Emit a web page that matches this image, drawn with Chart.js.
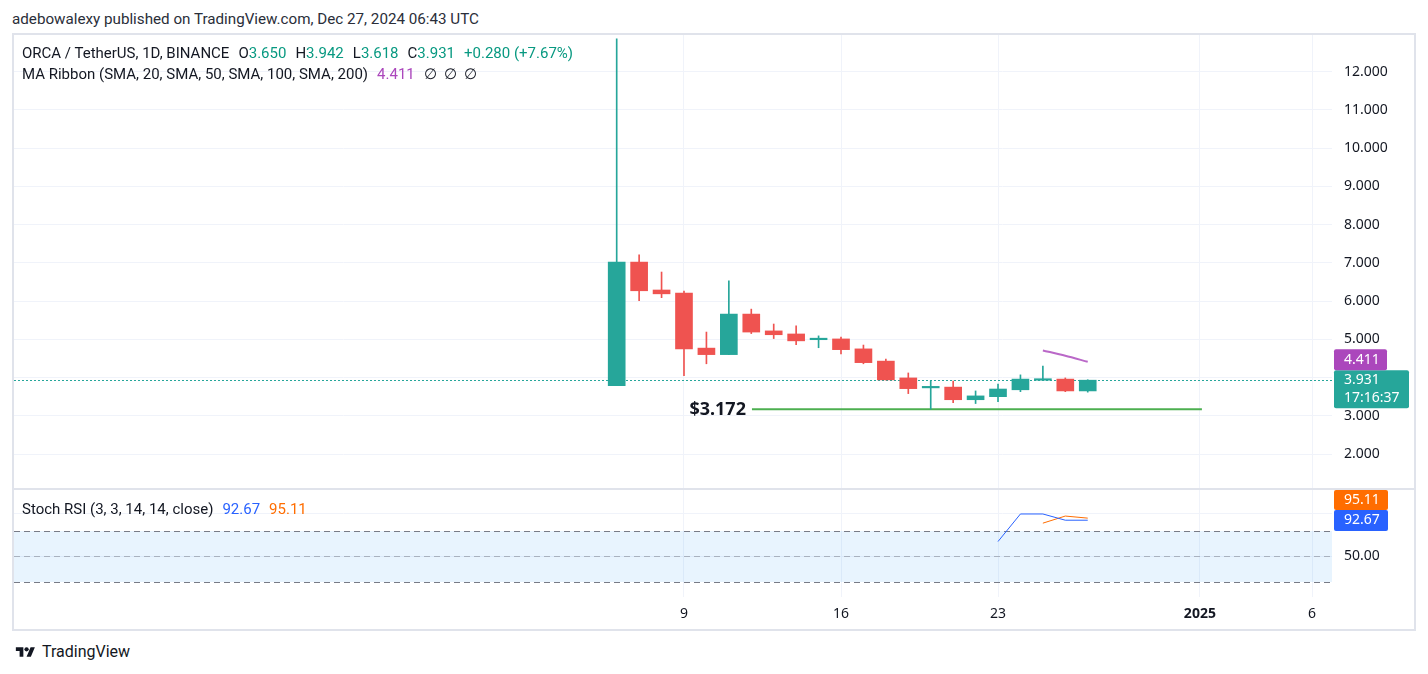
<!DOCTYPE html>
<html><head><meta charset="utf-8">
<script src="https://cdn.jsdelivr.net/npm/chart.js@4.4.1/dist/chart.umd.min.js"></script>
<style>
html,body{margin:0;padding:0;background:#fff;}
body{width:1428px;height:674px;overflow:hidden;position:relative;font-family:Roboto,"Noto Sans",sans-serif;color:#131722;}
.t{position:absolute;white-space:pre;line-height:1;}
#frame{position:absolute;left:12px;top:33px;width:1400px;height:594px;border:2px solid #e0e3eb;}
#sep{position:absolute;left:12px;top:488px;width:1404px;height:2px;background:#e0e3eb;}
canvas{position:absolute;}
.g{margin-left:9px;}
.n{margin-left:7px;}
.up{color:#089981;}
</style></head>
<body>
<div class="t" style="left:12px;top:12px;font-size:15.2px;color:#2a2e39;">adebowalexy published on TradingView.com, Dec 27, 2024 06:43 UTC</div>
<div id="frame"></div>
<div id="sep"></div>
<canvas id="main" width="1400" height="453" style="left:14px;top:35px;"></canvas>
<canvas id="stoch" width="1400" height="139" style="left:14px;top:490px;"></canvas>
<div class="t" style="left:22px;top:46px;font-size:15px;">ORCA / TetherUS, 1D, BINANCE<span class="g">O<span class="up">3.650</span></span><span class="g">H<span class="up">3.942</span></span><span class="g">L<span class="up">3.618</span></span><span class="g">C<span class="up">3.931</span></span><span class="g up">+0.280 (+7.67%)</span></div>
<div class="t" style="left:22px;top:67px;font-size:15px;">MA Ribbon (SMA, 20, SMA, 50, SMA, 100, SMA, 200)<span class="g" style="color:#ab47bc">4.411</span><span class="g">∅</span><span class="n">∅</span><span class="n">∅</span></div>
<div class="t" style="left:22px;top:502px;font-size:15px;">Stoch RSI (3, 3, 14, 14, close)<span class="g" style="color:#2962ff">92.67</span><span class="g" style="color:#ff6d00">95.11</span></div>
<svg style="position:absolute;left:13px;top:645px" width="25" height="15" viewBox="0 0 36 28"><path fill="#131722" d="M14 22H7V11H0V4h14v18zM28 22h-8l7.5-18h8L28 22z"/><circle cx="20" cy="8" r="4" fill="#131722"/></svg>
<div class="t" style="left:42px;top:644px;font-size:16px;">TradingView</div>
<script>
// ---- data ----
const candleDays = [6,7,8,9,10,11,12,13,14,15,16,17,18,19,20,21,22,23,24,25,26,27];
const opens  = [3.787,7.02,6.29,6.21,4.77,4.60,5.66,5.22,5.14,4.99,5.01,4.75,4.43,3.99,3.73,3.75,3.42,3.50,3.68,3.93,3.96,3.650];
const highs  = [12.86,7.21,6.76,6.26,5.19,6.53,5.79,5.40,5.35,5.09,5.06,4.85,4.48,4.12,3.91,3.91,3.65,3.83,4.07,4.30,3.99,3.942];
const lows   = [3.787,6.01,6.09,4.05,4.36,4.60,5.15,5.02,4.86,4.78,4.62,4.36,3.94,3.58,3.172,3.34,3.32,3.37,3.63,3.92,3.63,3.618];
const closes = [7.02,6.27,6.19,4.75,4.60,5.66,5.19,5.12,4.96,5.00,4.73,4.39,3.94,3.71,3.75,3.42,3.52,3.70,3.96,3.96,3.650,3.931];
const maDays = [25,26,27];
const maValues = [4.71,4.57,4.411];
const supportLevel = 3.172;
const supportDays = [12.03,32.09];
const kDays = [23,24,25,26,27];
const kValues = [67.6,100,100,92.66,92.67];
const dDays = [25,26,27];
const dValues = [89.2,97.55,95.11];
const stochBands = [80,50,20];
const priceTicks = [2,3,4,5,6,7,8,9,10,11,12];
const stochTicks = [50,100];
const xTickDays = [9,16,23,32,37];
const xTickLabels = ['9','16','23','2025','6'];
const lastPrice = 3.931;
const countdown = '17:16:37';
const maLast = 4.411;
const kLast = 92.67, dLast = 95.11;

const UP = '#26a69a', DOWN = '#ef5350';
const GRID = '#f0f3fa';
const FONT = '"Noto Sans", sans-serif';
const X_MIN = -20.87, X_MAX = 37.89;

const candleColors = candleDays.map((d,i)=> closes[i] >= opens[i] ? UP : DOWN);

function xScale(showTicks){
  return {
    type:'linear', min:X_MIN, max:X_MAX, offset:false,
    grid:{color:GRID, drawTicks:false, offset:false},
    border:{display:false},
    afterBuildTicks:(s)=>{ s.ticks = xTickDays.map(v=>({value:v})); },
    afterFit:(s)=>{ s.height = showTicks ? 32 : 0; s.paddingLeft = 0; s.paddingRight = 0; },
    ticks:{
      display:showTicks, padding:9, color:'#131722', maxRotation:0, autoSkip:false,
      font:(c)=>({family:FONT, size:14, weight: (c.tick && c.tick.value===32) ? 'bold':'normal'}),
      callback:(v)=> xTickLabels[xTickDays.indexOf(v)]
    }
  };
}

function yFit(s){ s.width = 82; s.paddingTop = 0; s.paddingBottom = 0; }

function box(ctx, x, y, w, h, color){
  ctx.fillStyle = color;
  ctx.beginPath();
  if (ctx.roundRect) ctx.roundRect(x,y,w,h,2); else ctx.rect(x,y,w,h);
  ctx.fill();
}

const mainPlugin = {
  id:'mainOverlay',
  beforeDatasetsDraw(chart){
    const {ctx, chartArea:a, scales:{y}} = chart;
    const py = Math.round(y.getPixelForValue(lastPrice)) + 0.5;
    ctx.save();
    ctx.strokeStyle = UP; ctx.lineWidth = 1; ctx.setLineDash([2,2]);
    ctx.beginPath(); ctx.moveTo(a.left, py); ctx.lineTo(a.right, py); ctx.stroke();
    ctx.restore();
  },
  afterDraw(chart){
    const {ctx, chartArea:a, scales:{x,y}} = chart;
    ctx.save();
    // support label
    const sx = x.getPixelForValue(supportDays[0]);
    const sy = y.getPixelForValue(supportLevel);
    ctx.font = 'bold 18px ' + FONT;
    ctx.fillStyle = '#131722';
    ctx.textAlign = 'right'; ctx.textBaseline = 'middle';
    ctx.fillText('$' + supportLevel.toFixed(3), sx - 6, sy + 1);
    // price labels
    const pLast = y.getPixelForValue(lastPrice);
    const tealTop = pLast - 10;
    box(ctx, a.right + 2, tealTop, 75, 38, UP);
    box(ctx, a.right + 2, tealTop - 21, 53, 21, '#ab47bc');
    ctx.fillStyle = '#fff';
    ctx.textAlign = 'left';
    ctx.font = '14px ' + FONT;
    ctx.fillText(maLast.toFixed(3), a.right + 12, tealTop - 10);
    ctx.fillText(lastPrice.toFixed(3), a.right + 12, tealTop + 10);
    ctx.fillText(countdown, a.right + 12, tealTop + 28);
    ctx.restore();
  }
};

new Chart(document.getElementById('main'), {
  type:'bar',
  data:{
    datasets:[
      { type:'line', label:'support', data: supportDays.map(d=>({x:d, y:supportLevel})),
        borderColor:'#4caf50', borderWidth:2, pointRadius:0, order:3 },
      { label:'wicks', data: candleDays.map((d,i)=>({x:d, y:[lows[i], highs[i]]})),
        backgroundColor:candleColors, barThickness:1, grouped:false, borderWidth:0, order:2 },
      { label:'bodies', data: candleDays.map((d,i)=>({x:d, y:[opens[i], closes[i]]})),
        backgroundColor:candleColors, barThickness:17, grouped:false, borderWidth:0, minBarLength:1.5, order:1 },
      { type:'line', label:'SMA20', data: maDays.map((d,i)=>({x:d, y:maValues[i]})),
        borderColor:'#ba68c8', borderWidth:2, pointRadius:0, tension:0.3, order:0 }
    ]
  },
  options:{
    responsive:false, animation:false, devicePixelRatio:1,
    layout:{padding:0},
    plugins:{legend:{display:false}, tooltip:{enabled:false}},
    scales:{
      x: xScale(false),
      y:{
        type:'linear', position:'right', min:1.111, max:12.96,
        grid:{color:GRID, drawTicks:false}, border:{display:false},
        afterBuildTicks:(s)=>{ s.ticks = priceTicks.map(v=>({value:v})); },
        afterFit:yFit,
        ticks:{padding:12, color:'#131722', font:{family:FONT, size:14}, callback:(v)=>v.toFixed(3)}
      }
    }
  },
  plugins:[mainPlugin]
});

const stochPlugin = {
  id:'stochOverlay',
  beforeDatasetsDraw(chart){
    const {ctx, chartArea:a, scales:{y}} = chart;
    const yTop = y.getPixelForValue(stochBands[0]);
    const yBot = y.getPixelForValue(stochBands[2]);
    ctx.save();
    ctx.fillStyle = 'rgba(33,150,243,0.1)';
    ctx.fillRect(a.left, yTop, a.right - a.left, yBot - yTop);
    ctx.lineWidth = 1; ctx.setLineDash([6,4]);
    stochBands.forEach((b,i)=>{
      const py = Math.round(y.getPixelForValue(b)) + 0.5;
      ctx.strokeStyle = i===1 ? 'rgba(120,123,134,0.5)' : '#787b86';
      ctx.beginPath(); ctx.moveTo(a.left, py); ctx.lineTo(a.right, py); ctx.stroke();
    });
    ctx.restore();
  },
  afterDraw(chart){
    const {ctx, chartArea:a} = chart;
    ctx.save();
    box(ctx, a.right + 2, a.top, 54, 20, '#ff6d00');
    box(ctx, a.right + 2, a.top + 20, 54, 21, '#2962ff');
    ctx.fillStyle = '#fff'; ctx.textAlign='left'; ctx.textBaseline='middle';
    ctx.font = '14px ' + FONT;
    ctx.fillText(dLast.toFixed(2), a.right + 12, a.top + 10);
    ctx.fillText(kLast.toFixed(2), a.right + 12, a.top + 30.5);
    ctx.restore();
  }
};

new Chart(document.getElementById('stoch'), {
  type:'line',
  data:{
    datasets:[
      { label:'K', data: kDays.map((d,i)=>({x:d, y:kValues[i]})), borderColor:'#2962ff', borderWidth:1, pointRadius:0 },
      { label:'D', data: dDays.map((d,i)=>({x:d, y:dValues[i]})), borderColor:'#ff6d00', borderWidth:1, pointRadius:0 }
    ]
  },
  options:{
    responsive:false, animation:false, devicePixelRatio:1,
    layout:{padding:0},
    plugins:{legend:{display:false}, tooltip:{enabled:false}},
    scales:{
      x: xScale(true),
      y:{
        type:'linear', position:'right', min:2.35, max:128.2,
        grid:{color:GRID, drawTicks:false}, border:{display:false},
        afterBuildTicks:(s)=>{ s.ticks = stochTicks.map(v=>({value:v})); },
        afterFit:yFit,
        ticks:{padding:12, color:'#131722', font:{family:FONT, size:14}, callback:(v)=> v===50 ? '50.00' : ''}
      }
    }
  },
  plugins:[stochPlugin]
});
</script>
</body></html>
